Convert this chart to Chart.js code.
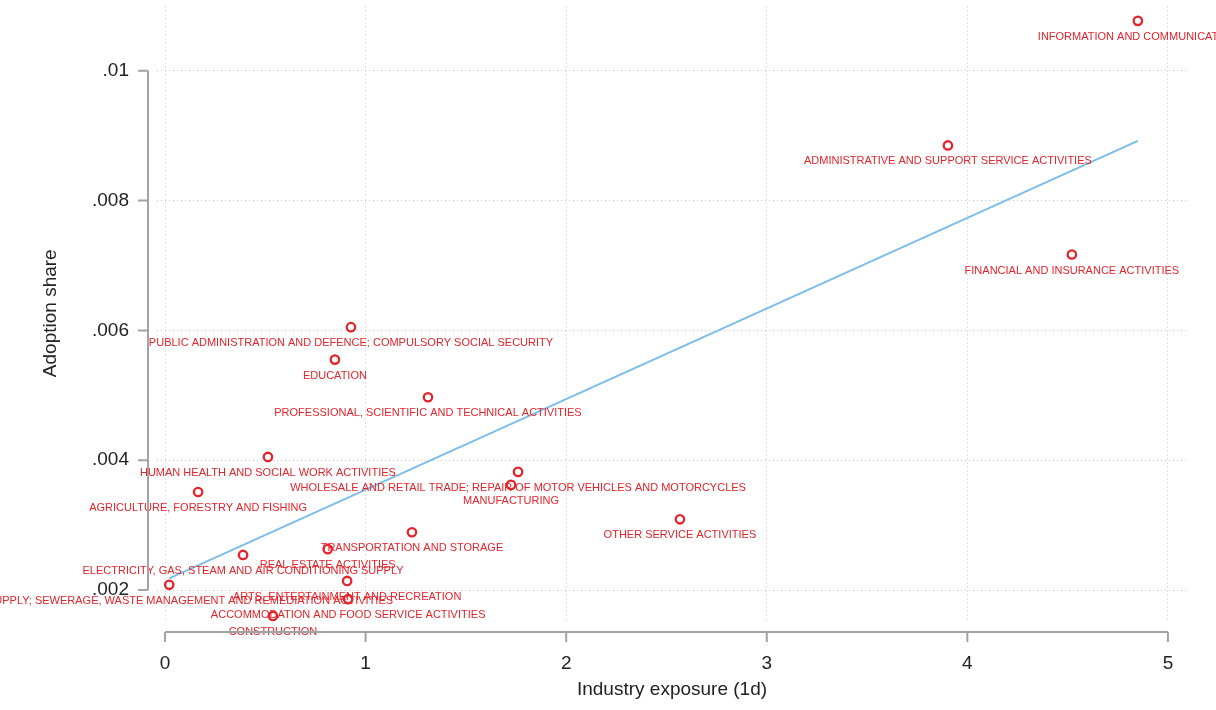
<!DOCTYPE html>
<html>
<head>
<meta charset="utf-8">
<script src="https://cdn.jsdelivr.net/npm/chart.js@4/dist/chart.umd.min.js"></script>
<style>
  html, body { margin: 0; padding: 0; background: #fff; }
  #wrap { width: 1216px; height: 710px; position: relative; }
</style>
</head>
<body>
<div id="wrap"><canvas id="scatter"></canvas></div>
<script>
// industries (NACE sections)
const industries = [
  'INFORMATION AND COMMUNICATION',
  'ADMINISTRATIVE AND SUPPORT SERVICE ACTIVITIES',
  'FINANCIAL AND INSURANCE ACTIVITIES',
  'PUBLIC ADMINISTRATION AND DEFENCE; COMPULSORY SOCIAL SECURITY',
  'EDUCATION',
  'PROFESSIONAL, SCIENTIFIC AND TECHNICAL ACTIVITIES',
  'HUMAN HEALTH AND SOCIAL WORK ACTIVITIES',
  'WHOLESALE AND RETAIL TRADE; REPAIR OF MOTOR VEHICLES AND MOTORCYCLES',
  'MANUFACTURING',
  'AGRICULTURE, FORESTRY AND FISHING',
  'OTHER SERVICE ACTIVITIES',
  'TRANSPORTATION AND STORAGE',
  'REAL ESTATE ACTIVITIES',
  'ELECTRICITY, GAS, STEAM AND AIR CONDITIONING SUPPLY',
  'ARTS, ENTERTAINMENT AND RECREATION',
  'WATER SUPPLY; SEWERAGE, WASTE MANAGEMENT AND REMEDIATION ACTIVITIES',
  'ACCOMMODATION AND FOOD SERVICE ACTIVITIES',
  'CONSTRUCTION'
];
const exposure = [4.85, 3.903, 4.521, 0.927, 0.847, 1.311, 0.513, 1.76, 1.725, 0.165,
                  2.567, 1.231, 0.811, 0.389, 0.908, 0.021, 0.913, 0.538];
const adoption = [0.01077, 0.00885, 0.00717, 0.00605, 0.00555, 0.00497, 0.00405, 0.00382, 0.00362, 0.00351,
                  0.00309, 0.00289, 0.00263, 0.00254, 0.00214, 0.00208, 0.00186, 0.00160];

// linear fit endpoints
const fitX = [0.021, 4.85];
const fitY = [0.00218, 0.00892];

const xTicks = [0, 1, 2, 3, 4, 5];
const yTicks = [0.002, 0.004, 0.006, 0.008, 0.01];

const RED = '#e3242b';
const AXIS_GREY = '#a3a3a3';
const GRID_GREY = '#c4c4c4';
const FONT = '"Liberation Sans", Arial, Helvetica, sans-serif';

// Stata-style axes: lines only span the tick range and sit slightly off the plot region
const axisPlugin = {
  id: 'stataAxes',
  afterDraw(chart) {
    const { ctx, chartArea, scales: { x, y } } = chart;
    const ax = chartArea.left - 9;
    const ay = chartArea.bottom + 12;
    ctx.save();
    ctx.strokeStyle = AXIS_GREY;
    ctx.lineWidth = 2;
    ctx.beginPath();
    ctx.moveTo(ax, y.getPixelForValue(yTicks[0]));
    ctx.lineTo(ax, y.getPixelForValue(yTicks[yTicks.length - 1]));
    yTicks.forEach(v => {
      const py = y.getPixelForValue(v);
      ctx.moveTo(ax - 10, py);
      ctx.lineTo(ax, py);
    });
    ctx.moveTo(x.getPixelForValue(xTicks[0]), ay);
    ctx.lineTo(x.getPixelForValue(xTicks[xTicks.length - 1]), ay);
    xTicks.forEach(v => {
      const px = x.getPixelForValue(v);
      ctx.moveTo(px, ay);
      ctx.lineTo(px, ay + 10);
    });
    ctx.stroke();
    ctx.restore();
  }
};

// industry names under each marker
const labelPlugin = {
  id: 'pointLabels',
  afterDatasetsDraw(chart) {
    const { ctx } = chart;
    const meta = chart.getDatasetMeta(1);
    ctx.save();
    ctx.font = '11px ' + FONT;
    ctx.fillStyle = RED;
    ctx.textAlign = 'center';
    ctx.textBaseline = 'middle';
    meta.data.forEach((pt, i) => {
      ctx.fillText(industries[i], pt.x, pt.y + 16);
    });
    ctx.restore();
  }
};

new Chart(document.getElementById('scatter'), {
  type: 'scatter',
  data: {
    datasets: [{
      type: 'line',
      data: fitX.map((v, i) => ({ x: v, y: fitY[i] })),
      borderColor: '#7cbde8',
      borderWidth: 2,
      pointRadius: 0,
      fill: false,
      clip: false
    }, {
      data: exposure.map((v, i) => ({ x: v, y: adoption[i] })),
      borderColor: RED,
      backgroundColor: '#fff',
      borderWidth: 2.3,
      pointRadius: 4.2,
      clip: false
    }]
  },
  options: {
    responsive: true,
    maintainAspectRatio: false,
    animation: false,
    layout: { padding: { top: 0, right: 29, bottom: 0, left: 0 } },
    plugins: { legend: { display: false }, tooltip: { enabled: false } },
    scales: {
      x: {
        type: 'linear',
        min: -0.04,
        max: 5.095,
        afterBuildTicks: s => { s.ticks = xTicks.map(v => ({ value: v })); },
        afterFit: s => { s.height = 90; },
        grid: { color: GRID_GREY, lineWidth: 1, drawTicks: false },
        border: { display: false, dash: [1, 3] },
        ticks: { padding: 32, color: '#222', font: { family: FONT, size: 19 } },
        title: {
          display: true, text: 'Industry exposure (1d)', color: '#222',
          font: { family: FONT, size: 19 }, padding: { top: 0, bottom: 9 }
        }
      },
      y: {
        type: 'linear',
        min: 0.001538,
        max: 0.010991,
        afterBuildTicks: s => { s.ticks = yTicks.map(v => ({ value: v })); },
        afterFit: s => { s.width = 157; s.paddingTop = 0; s.paddingBottom = 0; },
        grid: { color: GRID_GREY, lineWidth: 1, drawTicks: false },
        border: { display: false, dash: [1, 3] },
        ticks: {
          padding: 28, color: '#222', font: { family: FONT, size: 19 },
          callback: v => String(+v.toFixed(3)).replace(/^0\./, '.')
        },
        title: {
          display: true, text: 'Adoption share', color: '#222',
          font: { family: FONT, size: 19 }, padding: { top: 39, bottom: 0 }
        }
      }
    }
  },
  plugins: [axisPlugin, labelPlugin]
});
</script>
</body>
</html>
